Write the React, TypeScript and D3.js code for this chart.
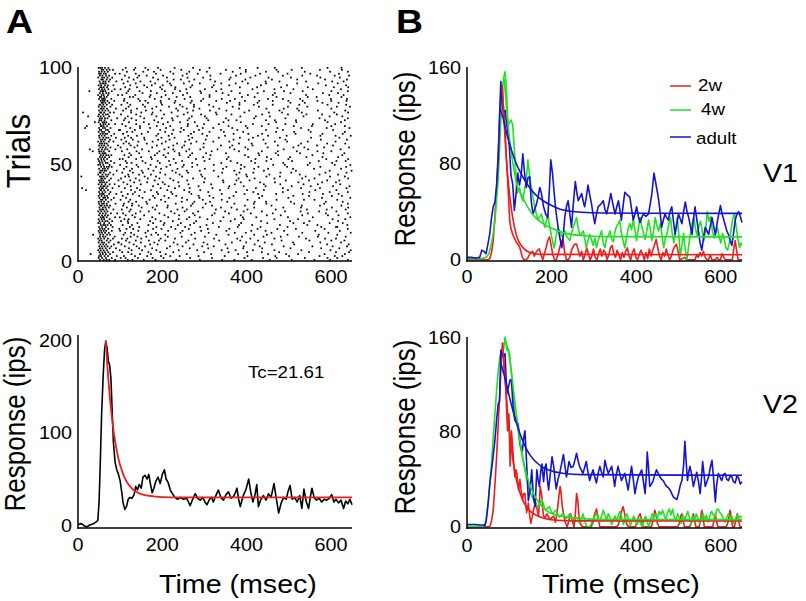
import React from "react";
import * as d3 from "d3";

// ---------------- DATA ----------------
const timeTicks = [0, 200, 400, 600];
const trialTicks = [0, 50, 100];
const psthTicksA = [0, 100, 200];
const respTicksB = [0, 80, 160];
const tcLabel = "Tc=21.61";
const legendLabels = ["2w", "4w", "adult"];
const areaLabels = ["V1", "V2"];

// raster: spike times (ms) per trial, trial 1 (bottom) .. 100 (top)
const spikeTimes: number[][] = [
  [61,52,74,68,88,412,156,598,233,371,507,129,640,289,455,184,342,561,118],
  [57,49,66,80,203,471,615,318,142,538,395,266,177,592,439,113,101],
  [55,71,63,50,92,348,501,219,627,164,286,573,402,135,468,241,609,197,109],
  [30,59,53,76,66,522,147,380,258,633,451,208,316,585,173,494,127],
  [64,51,58,83,72,167,299,436,612,226,357,548,119,477,195,401,643,105],
  [54,69,48,61,283,530,152,415,599,341,239,186,466,647,374,127,99],
  [58,75,52,66,90,437,211,577,309,145,620,265,392,504,176,355,121],
  [50,63,56,79,70,159,322,488,604,248,393,139,556,218,431,638,295,111],
  [67,53,60,85,591,274,132,419,189,350,513,236,642,460,171,307,103],
  [49,57,73,62,95,227,365,510,149,624,298,443,181,575,399,122,256,97],
  [56,68,51,77,335,483,207,601,168,427,262,549,385,137,632,192,114],
  [62,54,48,71,83,150,278,409,541,196,323,612,466,230,117,378,586,104],
  [59,52,65,87,481,246,162,389,635,301,524,213,440,141,569,125],
  [36,53,69,60,76,190,328,571,448,269,133,615,357,207,497,174,418,108],
  [51,64,57,73,594,372,243,126,459,310,185,532,647,398,160,277,112],
  [55,49,61,80,67,214,352,489,166,621,292,411,143,563,248,445,100],
  [63,58,72,52,98,131,473,308,585,198,426,263,640,359,178,517,231,115],
  [57,50,66,82,379,254,615,145,497,221,334,577,186,433,290,612,123],
  [60,54,70,64,78,167,544,305,413,128,639,237,382,479,203,266,568,106],
  [53,48,62,74,449,178,597,320,244,536,141,387,628,275,205,511,119],
  [58,65,51,81,70,225,362,118,503,280,617,171,434,338,549,196,102],
  [56,62,49,75,604,258,393,148,522,307,184,466,239,634,372,120,110],
  [61,54,68,59,88,176,423,289,557,135,345,498,214,646,391,264,99],
  [50,57,71,64,318,157,481,240,593,386,205,532,129,448,277,618,113],
  [66,52,59,78,93,137,273,410,588,193,324,462,229,545,640,358,107],
  [55,48,63,70,491,168,349,221,613,285,436,148,572,393,253,528,122],
  [52,60,67,57,84,258,125,402,543,183,327,469,635,236,377,590,104],
  [59,51,73,65,212,364,487,151,602,296,418,177,529,248,641,339,116],
  [53,63,56,76,69,396,144,531,268,187,459,625,318,213,574,107,128],
  [57,50,68,61,89,164,303,447,584,232,371,129,513,640,272,417,109],
  [62,55,72,49,276,419,162,588,354,207,505,138,628,313,446,246,120],
  [54,66,58,79,536,197,341,471,124,615,259,402,170,561,296,101],
  [60,51,64,71,85,153,288,430,579,215,359,499,182,646,321,247,114],
  [56,49,69,63,369,511,233,145,602,286,437,178,548,312,626,205,106],
  [52,61,57,74,91,224,395,130,470,618,341,269,190,533,427,581,118],
  [58,65,50,77,486,158,309,549,221,375,640,264,416,135,187,597,103],
  [19,55,62,53,71,173,337,498,252,613,401,147,563,290,441,212,126],
  [10,51,59,67,57,82,265,422,140,574,319,196,486,637,357,230,529,111],
  [63,54,70,60,125,359,507,240,605,286,445,178,393,552,215,644,97],
  [49,56,65,75,87,441,206,569,316,149,480,262,622,372,190,535,117],
  [57,52,68,62,299,164,523,386,238,612,133,467,345,579,201,432,108],
  [60,50,74,55,96,182,344,493,259,620,407,146,548,226,376,591,124],
  [55,64,58,78,561,219,381,137,466,301,641,193,419,273,532,166,102],
  [8,52,61,69,56,333,479,158,598,247,401,185,540,295,447,121,633,112],
  [48,58,66,72,84,207,376,526,145,454,292,617,241,399,173,573,119],
  [54,61,51,76,416,261,130,587,342,195,506,232,637,383,154,480,105],
  [57,67,53,63,92,151,289,441,597,224,371,517,179,649,322,258,123],
  [50,59,71,64,510,236,386,167,624,301,451,197,560,344,128,418,109],
  [62,55,68,80,73,271,428,143,575,210,352,496,636,248,395,185,115],
  [53,48,60,75,609,322,172,463,251,545,139,387,219,491,283,646,100],
  [58,66,52,70,86,194,340,487,116,603,271,420,232,550,378,160,127],
  [56,63,50,78,447,216,571,300,153,635,362,189,508,247,411,613,113],
  [48,61,55,69,99,138,280,421,589,227,353,499,175,641,312,458,106],
  [52,64,58,74,357,503,173,262,617,404,208,542,297,448,150,580,120],
  [60,54,67,79,72,241,396,126,556,314,182,475,627,266,430,203,110],
  [51,58,65,62,582,271,145,428,214,351,527,188,632,304,469,240,122],
  [35,55,61,50,74,168,317,474,229,601,382,139,519,257,436,193,568,104],
  [28,49,57,70,64,89,403,264,152,546,331,205,488,623,290,371,226,117],
  [53,66,59,77,215,360,511,134,584,298,450,176,643,247,397,537,101],
  [50,62,56,71,95,523,187,339,252,605,414,141,474,226,366,567,125],
  [57,52,68,63,298,445,163,591,235,382,529,121,634,268,412,199,108],
  [61,48,55,73,84,177,321,467,254,611,359,208,545,143,496,281,114],
  [54,64,58,76,440,217,369,130,576,303,492,190,638,264,405,158,103],
  [51,60,67,72,90,271,415,157,553,229,384,620,198,479,334,126,111],
  [56,63,50,79,349,186,495,262,611,140,427,306,575,215,451,647,119],
  [59,53,69,65,86,151,295,437,580,223,369,516,190,628,268,404,107],
  [49,57,62,74,513,243,392,166,633,312,470,207,552,346,129,275,116],
  [55,66,52,71,97,226,378,135,547,287,446,195,605,339,486,251,100],
  [17,50,59,64,77,402,171,321,590,245,473,147,529,366,209,644,296,124],
  [21,56,61,69,54,147,283,436,601,219,357,512,187,633,260,398,555,113],
  [53,60,73,65,88,334,492,168,261,610,415,202,557,299,138,452,105],
  [40,49,58,67,62,190,345,518,242,624,386,156,470,277,592,213,121],
  [55,63,51,79,467,225,376,138,586,309,446,181,633,260,517,357,109],
  [57,52,70,64,93,264,418,157,573,223,351,492,199,640,305,127,112],
  [24,54,61,48,74,148,301,455,597,236,385,535,186,627,270,422,118],
  [59,50,66,71,542,204,364,138,614,292,437,175,498,251,579,329,102],
  [12,55,62,53,76,85,177,327,484,260,608,395,150,531,222,453,641,126],
  [50,58,65,72,406,237,126,569,313,478,196,634,352,273,524,161,107],
  [56,61,69,54,90,233,382,140,520,288,447,176,601,335,488,258,114],
  [49,57,63,77,614,275,429,159,544,216,367,498,186,645,321,248,120],
  [53,60,51,68,81,154,311,462,592,242,383,124,525,275,417,199,636,103],
  [56,65,59,74,383,538,197,267,618,426,166,504,229,353,580,117],
  [54,59,63,70,86,109,147,160,196,231,270,292,328,361,396,430,462,499,533,568,601,637],
  [50,57,64,60,79,216,372,527,143,600,297,451,182,638,341,253,486,110],
  [55,62,68,52,471,234,389,131,566,312,198,625,266,419,545,170,123],
  [48,56,61,71,95,312,462,172,596,249,403,136,541,357,208,630,105],
  [52,59,67,73,187,343,504,259,617,384,153,467,225,581,292,426,115],
  [27,54,60,65,58,80,533,206,364,146,601,290,441,173,489,328,640,242,119],
  [50,57,63,72,87,257,414,122,557,301,466,199,624,340,230,511,101],
  [56,61,69,53,164,318,482,231,607,384,140,545,267,425,195,641,112],
  [49,55,64,71,84,434,201,359,157,588,271,496,221,636,322,175,124],
  [53,58,66,61,289,446,137,570,218,374,520,183,616,251,403,340,108],
  [51,60,65,73,91,172,325,478,264,603,390,148,541,212,445,630,118],
  [55,59,68,76,520,244,397,132,586,314,460,190,638,276,359,227,104],
  [48,57,62,70,81,141,297,452,211,575,362,505,178,621,260,409,121],
  [52,58,67,74,375,532,163,248,609,421,202,486,314,145,567,643,111],
  [54,61,66,50,88,226,386,137,551,284,432,185,619,338,497,258,99],
  [50,56,63,71,475,219,367,155,598,306,446,180,538,264,640,398,116],
  [56,60,68,75,83,196,351,507,245,626,398,133,471,289,574,166,106],
  [49,57,64,72,53,312,467,160,592,229,384,136,531,273,426,625,190,113],
];

// PSTH of the raster (ms, ips)
const psthA: [number, number][] = [
  [0,0],[5,1.5],[10,1],[15,-1],[21,-2],[28,0],[35,1],[42,3],[47,5],[50,25],[53,70],[56,120],[60,165],[63,190],[66,200],[69,192],[72,178],[75,174],[78,160],[81,125],[84,90],[88,68],[92,60],[96,55],[100,48],[104,35],[107,24],[111,17],[115,20],[119,28],[123,30],[128,29],[133,33],[137,42],[141,38],[145,44],[150,40],[154,52],[159,54],[164,50],[168,55],[172,44],[176,35],[180,40],[185,48],[190,52],[195,45],[200,55],[205,60],[209,50],[214,46],[219,38],[224,34],[230,30],[236,28],[243,30],[250,28],[258,29],[262,25],[266,21],[272,28],[278,34],[284,29],[290,27],[296,30],[301,25],[306,22],[312,28],[317,30],[321,25],[327,32],[333,38],[339,30],[345,27],[351,33],[357,36],[363,29],[369,31],[374,36],[377,40],[381,28],[385,20],[392,32],[398,38],[405,50],[410,35],[415,25],[420,33],[424,44],[428,20],[434,28],[440,32],[446,27],[452,34],[458,30],[465,45],[470,30],[476,13],[482,24],[488,30],[494,28],[498,36],[503,43],[508,28],[514,30],[520,25],[526,32],[531,18],[536,39],[541,26],[547,18],[551,30],[555,40],[560,30],[566,27],[572,29],[578,25],[584,28],[590,27],[596,29],[602,33],[607,25],[612,28],[618,24],[624,27],[630,18],[635,26],[640,23],[645,28],[650,22],
];
const fitA: [number, number][] = [
  [66,200],[70,171],[75,142],[80,119],[85,100],[90,86],[95,74],[100,65],[105,58],[110,52],[115,47.5],[120,44],[130,38.8],[140,35.5],[150,33.5],[165,31.9],[180,31.1],[200,30.4],[240,30.05],[650,30],
];

// V1 responses (ms, ips)
const v1_2w: [number, number][] = [
  [0,0],[40,0],[50,0],[54,1],[58,6],[62,16],[66,36],[70,60],[74,92],[78,124],[81,140],[83,145],[86,128],[90,110],[93,85],[97,60],[101,32],[104,26],[108,21],[112,18],[116,15],[120,13],[124,11],[128,6],[131,2],[135,0],[139,0],[143,1],[147,4],[151,6],[155,7],[159,3],[163,6],[167,8],[171,9],[175,4],[179,0],[183,5],[187,10],[191,16],[195,19],[199,12],[203,4],[207,0],[211,0],[215,4],[219,10],[223,15],[227,17],[231,6],[235,0],[239,0],[243,2],[247,8],[251,11],[255,13],[259,13],[263,8],[267,3],[271,7],[275,0],[279,4],[283,10],[287,5],[291,0],[295,3],[299,9],[303,2],[307,0],[311,5],[315,9],[319,3],[323,8],[327,6],[331,0],[335,4],[339,10],[343,12],[347,5],[351,2],[355,8],[359,4],[363,0],[367,6],[371,2],[375,7],[379,10],[383,3],[387,0],[391,6],[395,9],[399,2],[403,0],[407,4],[411,8],[415,5],[419,0],[423,6],[427,1],[431,9],[435,3],[439,8],[443,12],[447,17],[451,10],[455,3],[459,0],[463,6],[467,3],[471,9],[475,4],[479,0],[483,3],[487,8],[491,11],[495,13],[499,7],[503,0],[515,2],[519,0],[539,0],[543,4],[547,2],[551,6],[555,3],[559,7],[563,2],[567,0],[571,0],[575,4],[579,0],[587,0],[591,2],[595,0],[599,0],[603,5],[607,2],[611,0],[627,0],[631,10],[634,16],[637,8],[641,0],[650,0],
];
const v1_4w: [number, number][] = [
  [0,1],[20,1],[35,1],[45,2],[52,5],[58,14],[62,22],[66,32],[70,50],[74,68],[78,100],[82,132],[86,150],[90,156],[93,143],[97,111],[100,114],[104,116],[108,112],[112,91],[116,68],[118,55],[121,58],[124,60],[128,53],[132,49],[136,58],[140,66],[144,83],[148,70],[152,60],[156,52],[160,44],[164,38],[168,33],[172,36],[176,38],[180,32],[184,27],[188,33],[191,38],[195,28],[199,21],[203,14],[206,10],[209,16],[211,21],[215,26],[219,24],[223,20],[227,19],[231,24],[235,20],[239,18],[243,16],[247,22],[251,27],[255,31],[259,35],[263,26],[267,20],[271,22],[275,24],[279,16],[282,10],[286,16],[290,21],[294,17],[298,12],[302,18],[306,10],[310,16],[314,20],[318,24],[322,14],[326,10],[330,18],[334,20],[338,24],[342,17],[346,15],[350,24],[354,28],[358,30],[361,33],[365,22],[369,16],[373,10],[377,18],[381,26],[385,30],[389,25],[393,34],[397,24],[401,16],[405,26],[409,35],[413,28],[417,22],[421,17],[425,24],[429,33],[433,26],[437,16],[441,24],[445,35],[449,28],[453,24],[457,30],[461,20],[465,10],[469,18],[473,22],[477,30],[481,35],[485,22],[489,14],[493,25],[497,35],[500,24],[504,3],[508,12],[512,22],[516,8],[520,0],[524,12],[528,22],[532,30],[536,35],[540,26],[544,20],[548,28],[552,32],[556,24],[560,16],[564,24],[568,40],[572,32],[576,36],[580,24],[584,18],[588,22],[592,27],[596,19],[600,14],[604,22],[608,17],[612,10],[616,8],[620,14],[624,24],[628,34],[632,38],[636,28],[640,18],[644,10],[647,14],[650,12],
];
const v1_adult: [number, number][] = [
  [0,2],[10,2],[20,1.5],[30,2],[35,8],[40,7],[45,5],[50,14],[54,22],[58,35],[62,44],[66,48],[70,62],[74,85],[77,120],[80,148],[83,130],[86,122],[90,124],[94,112],[97,105],[100,94],[104,70],[108,63],[112,41],[116,55],[120,72],[124,62],[128,70],[132,88],[136,72],[140,60],[144,68],[148,69],[152,48],[156,38],[160,42],[164,46],[168,52],[172,60],[176,55],[181,44],[186,38],[191,35],[195,60],[198,83],[202,72],[205,60],[208,48],[211,38],[215,28],[218,21],[224,10],[228,22],[231,35],[235,44],[239,49],[243,38],[247,27],[251,45],[256,65],[260,55],[263,49],[267,52],[271,55],[275,48],[278,44],[282,52],[286,62],[290,54],[294,47],[298,38],[302,30],[306,38],[310,44],[316,46],[322,49],[326,42],[330,38],[335,46],[340,55],[345,46],[350,38],[354,44],[358,49],[362,40],[365,33],[369,45],[373,56],[378,54],[385,52],[389,42],[393,33],[397,38],[401,44],[405,36],[409,31],[413,35],[417,38],[423,36],[429,38],[433,46],[437,55],[442,72],[448,60],[452,52],[455,44],[460,27],[464,33],[468,38],[472,35],[476,33],[480,40],[484,44],[488,32],[492,21],[496,30],[500,38],[504,34],[508,30],[512,40],[516,48],[520,40],[524,35],[528,28],[532,21],[535,33],[539,44],[543,34],[547,24],[551,14],[555,8],[559,18],[563,27],[567,24],[571,21],[575,28],[579,35],[583,28],[587,21],[591,30],[595,38],[599,45],[603,38],[607,33],[611,28],[614,24],[618,21],[622,16],[626,12],[630,22],[634,33],[638,38],[642,40],[646,36],[650,31],
];
const v1Fit2w: [number, number][] = [
  [83,145],[87,120],[90,100],[95,75],[100,56],[105,42],[110,31],[115,23],[120,17],[130,11],[140,7.5],[155,5.5],[180,4.5],[650,4.2],
];
const v1Fit4w: [number, number][] = [
  [88,150],[92,132],[96,116],[100,102],[105,88],[110,77],[115,67],[120,60],[130,53],[140,46],[150,40],[165,34],[180,30],[195,27],[215,24],[240,21.5],[280,20],[340,19.2],[650,19],
];
const v1FitAdult: [number, number][] = [
  [78,125],[85,118],[90,110],[100,97],[110,86],[120,77],[130,70],[140,64],[150,59],[165,53],[180,49],[200,45],[220,42],[240,40.5],[270,39.5],[320,38.8],[650,38.5],
];

// V2 responses (ms, ips)
const v2_2w: [number, number][] = [
  [0,0],[45,0],[50,0],[54,0.5],[58,5],[62,14],[66,35],[70,59],[74,88],[78,115],[81,140],[84,155],[87,137],[90,125],[92,115],[94,95],[96,81],[99,95],[102,51],[105,81],[107,72],[109,61],[111,50],[113,42],[116,48],[118,45],[120,36],[122,31],[125,40],[128,30],[131,23],[134,28],[137,28],[139,18],[141,12],[143,16],[145,20],[148,10],[151,3],[154,8],[157,14],[160,18],[163,20],[166,14],[169,9],[171,20],[173,34],[175,30],[177,25],[179,15],[181,9],[185,8],[189,11],[193,8],[197,6],[201,8],[205,9],[209,4],[213,12],[217,25],[220,34],[222,30],[225,18],[229,9],[233,3],[237,0],[241,6],[245,11],[249,5],[253,0],[256,10],[259,28],[262,22],[265,8],[269,2],[273,0],[293,0],[297,3],[301,10],[306,15],[310,8],[314,0],[354,0],[358,2],[362,8],[366,14],[369,17],[372,12],[375,6],[378,2],[382,0],[398,0],[402,4],[406,9],[409,11],[412,7],[416,0],[436,0],[440,6],[444,14],[447,10],[450,3],[454,0],[498,0],[502,3],[505,9],[508,11],[511,5],[514,0],[526,0],[530,3],[533,9],[535,11],[538,5],[541,0],[549,0],[552,6],[555,14],[558,8],[561,0],[581,0],[584,6],[587,11],[590,4],[593,0],[613,0],[617,4],[620,11],[622,14],[625,6],[628,0],[632,0],[636,6],[639,11],[642,6],[645,0],[650,0],
];
const v2_4w: [number, number][] = [
  [0,0.5],[20,0.5],[38,0.5],[42,1],[46,8],[50,20],[54,36],[58,54],[62,75],[66,95],[70,115],[74,132],[78,144],[82,147],[85,148],[87,151],[90,160],[94,149],[98,150],[101,145],[103,137],[106,127],[108,118],[111,105],[113,95],[116,90],[119,87],[122,78],[125,70],[128,64],[131,59],[134,53],[137,48],[141,40],[145,34],[149,30],[153,26],[157,23],[161,20],[165,18],[169,17],[173,20],[177,23],[180,20],[184,15],[187,14],[191,16],[195,17],[199,13],[203,11],[207,13],[211,14],[215,10],[219,8],[223,10],[227,11],[231,9],[235,7],[239,9],[243,11],[247,8],[251,6],[255,7],[259,8],[263,5],[266,3],[270,7],[274,11],[278,6],[282,1],[286,0],[290,0],[294,3],[298,6],[302,9],[306,11],[310,7],[314,4],[318,9],[322,14],[326,10],[330,6],[334,11],[338,8],[342,2],[346,6],[350,9],[354,5],[358,10],[362,13],[366,7],[370,2],[374,8],[378,11],[382,6],[386,1],[390,5],[394,9],[398,5],[402,2],[406,7],[410,3],[414,0],[418,5],[422,9],[426,4],[430,0],[434,6],[438,11],[442,8],[446,11],[450,7],[454,13],[458,10],[462,14],[466,10],[470,6],[474,12],[478,15],[482,10],[486,15],[490,8],[494,6],[498,11],[502,7],[506,3],[510,10],[514,6],[518,9],[522,13],[526,7],[530,2],[534,9],[538,6],[542,11],[546,7],[550,3],[554,8],[558,11],[562,6],[566,10],[570,4],[574,9],[578,13],[582,10],[586,8],[590,14],[594,15],[598,12],[602,10],[606,7],[610,4],[614,8],[618,11],[622,7],[626,9],[630,3],[634,6],[638,10],[642,7],[646,9],[650,8],
];
const v2_adult: [number, number][] = [
  [0,2],[10,2],[20,2],[30,1.5],[38,1.5],[42,1],[45,4],[50,20],[54,37],[58,48],[62,60],[66,73],[70,90],[74,104],[77,106],[80,149],[83,145],[86,143],[90,146],[94,112],[98,118],[102,124],[105,124],[109,101],[113,90],[117,88],[121,87],[124,75],[127,67],[131,64],[134,75],[137,81],[141,53],[145,22],[149,31],[153,48],[157,25],[161,17],[165,48],[168,40],[171,34],[174,46],[177,53],[181,38],[184,50],[187,53],[190,40],[193,31],[197,45],[201,59],[205,51],[208,40],[211,32],[215,40],[219,45],[223,52],[228,61],[232,50],[235,42],[238,48],[241,55],[246,50],[251,51],[255,56],[259,62],[263,55],[266,51],[270,48],[274,45],[278,50],[282,55],[286,46],[290,39],[294,44],[298,48],[302,42],[306,37],[310,45],[314,51],[318,46],[322,42],[326,56],[330,50],[334,45],[338,48],[342,51],[346,42],[349,34],[353,44],[357,51],[361,45],[365,39],[369,42],[373,45],[377,38],[381,31],[385,42],[389,51],[393,40],[397,28],[401,36],[405,42],[409,45],[413,48],[417,38],[421,28],[424,45],[426,63],[429,50],[432,34],[436,36],[440,39],[444,44],[448,48],[452,45],[456,42],[460,40],[464,39],[468,36],[472,34],[476,33],[480,31],[484,28],[488,25],[492,24],[496,23],[500,28],[504,35],[508,39],[512,52],[515,72],[518,55],[521,39],[524,46],[527,51],[531,44],[535,34],[539,40],[543,46],[547,38],[551,28],[554,40],[557,55],[560,45],[563,34],[567,38],[571,42],[575,50],[579,56],[583,40],[587,21],[590,35],[594,45],[598,42],[602,39],[606,44],[610,45],[614,40],[618,39],[622,43],[626,42],[630,38],[634,37],[638,43],[642,41],[646,36],[650,38],
];
const v2Fit2w: [number, number][] = [
  [84,155],[88,135],[92,115],[96,97],[100,82],[105,66],[110,53],[115,43],[120,35],[130,24],[140,17],[150,13],[165,9.5],[180,7.5],[200,6],[230,5.2],[280,5],[650,5],
];
const v2Fit4w: [number, number][] = [
  [90,158],[95,152],[100,143],[105,130],[110,115],[115,100],[120,86],[125,73],[130,62],[140,45],[150,34],[160,26],[175,18],[190,13],[210,10],[240,8],[280,6.7],[340,6.2],[650,6],
];
const v2FitAdult: [number, number][] = [
  [80,138],[90,125],[100,110],[110,96],[120,84],[130,74],[140,66],[150,60],[165,54],[180,50],[200,47],[230,45],[270,44],[650,43.5],
];

// ---------------- STYLE ----------------
const FONT = "'Liberation Sans', Arial, Helvetica, sans-serif";
const SX = 1.1;
const RED = "#ee1c1c";
const GREEN = "#22e022";
const BLUE = "#1414d0";
const seriesColors = [RED, GREEN, BLUE];

// scales
const xA = d3.scaleLinear().domain([0, 650]).range([78, 352]);
const yTrial = d3.scaleLinear().domain([0, 100]).range([261, 67]);
const yA = d3.scaleLinear().domain([-3.26, 206.5]).range([528, 335]);
const xB = d3.scaleLinear().domain([0, 650]).range([467, 742]);
const yB1 = d3.scaleLinear().domain([-1, 160]).range([261, 67]);
const yB2 = d3.scaleLinear().domain([-1, 160]).range([528, 337]);

function Txt(props: {
  x: number; y: number; size: number; anchor?: string; rotate?: number;
  weight?: string; children: React.ReactNode;
}) {
  const { x, y, size, anchor = "start", rotate = 0, weight = "normal", children } = props;
  return (
    <text
      transform={`translate(${x},${y}) scale(${SX},1) rotate(${rotate})`}
      fontFamily={FONT}
      fontSize={size}
      fontWeight={weight}
      textAnchor={anchor}
      fill="#000"
    >
      {children}
    </text>
  );
}

function Axes(props: {
  x: d3.ScaleLinear<number, number>; y: d3.ScaleLinear<number, number>;
  yTicks: number[]; xTicks: number[]; xLabelDy: number;
}) {
  const { x, y, yTicks, xTicks, xLabelDy } = props;
  const [x0, x1] = x.range();
  const [yb, yt] = y.range();
  return (
    <g>
      <line x1={x0} x2={x0} y1={yt} y2={yb + 0.75} stroke="#000" strokeWidth={1.5} />
      <line x1={x0 - 0.75} x2={x1} y1={yb} y2={yb} stroke="#000" strokeWidth={1.5} />
      {yTicks.map((t) => (
        <Txt key={"y" + t} x={x0 - 6} y={y(t) + 6.5} size={18} anchor="end">{t}</Txt>
      ))}
      {xTicks.map((t) => (
        <Txt key={"x" + t} x={x(t)} y={yb + xLabelDy} size={18} anchor="middle">{t}</Txt>
      ))}
    </g>
  );
}

function pathOf(data: [number, number][], x: d3.ScaleLinear<number, number>, y: d3.ScaleLinear<number, number>, smooth = false) {
  const gen = d3.line<[number, number]>().x((d) => x(d[0])).y((d) => y(d[1]));
  if (smooth) gen.curve(d3.curveMonotoneX);
  return gen(data) || "";
}

export default function App() {
  const dots: { t: number; tr: number }[] = [];
  spikeTimes.forEach((row, i) => row.forEach((t) => dots.push({ t, tr: i + 0.55 })));

  const v1Data = [v1_2w, v1_4w, v1_adult];
  const v1Fits = [v1Fit2w, v1Fit4w, v1FitAdult];
  const v2Data = [v2_2w, v2_4w, v2_adult];
  const v2Fits = [v2Fit2w, v2Fit4w, v2FitAdult];

  const legendY = [86, 110, 137];
  const legendTextX = [698, 701, 696];
  const legendTextY = [91, 115, 144];

  return (
    <svg
      width={806}
      height={601}
      style={{ position: "absolute", left: 0, top: 0, background: "#fff" }}
    >
      <rect x={0} y={0} width={806} height={601} fill="#fff" />

      {/* panel letters */}
      <Txt x={6} y={33} size={34} weight="bold">A</Txt>
      <Txt x={396} y={33} size={34} weight="bold">B</Txt>

      {/* ---- A top: raster ---- */}
      <g>
        {dots.map((d, i) => (
          <rect
            key={i}
            x={xA(d.t) - 0.85}
            y={yTrial(d.tr) - 0.85}
            width={1.7}
            height={1.7}
            fill="#000"
          />
        ))}
      </g>
      <Axes x={xA} y={yTrial} yTicks={trialTicks} xTicks={timeTicks} xLabelDy={22} />
      <Txt x={30} y={151} size={31} anchor="middle" rotate={-90}>Trials</Txt>

      {/* ---- A bottom: PSTH ---- */}
      <path d={pathOf(psthA, xA, yA)} fill="none" stroke="#000" strokeWidth={1.6} strokeLinejoin="round" />
      <path d={pathOf(fitA, xA, yA, true)} fill="none" stroke={RED} strokeWidth={1.8} />
      <Axes x={xA} y={yA} yTicks={psthTicksA} xTicks={timeTicks} xLabelDy={23} />
      <Txt x={248} y={378} size={17}>{tcLabel}</Txt>
      <Txt x={25} y={424} size={26} anchor="middle" rotate={-90}>Response (ips)</Txt>
      <Txt x={238} y={593} size={26} anchor="middle">Time (msec)</Txt>

      {/* ---- B top: V1 ---- */}
      {v1Data.map((d, i) => (
        <path key={"v1d" + i} d={pathOf(d, xB, yB1)} fill="none" stroke={seriesColors[i]} strokeWidth={1.6} strokeLinejoin="round" />
      ))}
      {v1Fits.map((d, i) => (
        <path key={"v1f" + i} d={pathOf(d, xB, yB1, true)} fill="none" stroke={seriesColors[i]} strokeWidth={1.6} />
      ))}
      <Axes x={xB} y={yB1} yTicks={respTicksB} xTicks={timeTicks} xLabelDy={22} />
      <Txt x={415} y={159} size={26} anchor="middle" rotate={-90}>Response (ips)</Txt>
      {legendLabels.map((l, i) => (
        <g key={l}>
          <line x1={670} x2={691} y1={legendY[i]} y2={legendY[i]} stroke={seriesColors[i]} strokeWidth={1.5} />
          <Txt x={legendTextX[i]} y={legendTextY[i]} size={17}>{l}</Txt>
        </g>
      ))}
      <Txt x={763} y={182} size={26}>{areaLabels[0]}</Txt>

      {/* ---- B bottom: V2 ---- */}
      {v2Data.map((d, i) => (
        <path key={"v2d" + i} d={pathOf(d, xB, yB2)} fill="none" stroke={seriesColors[i]} strokeWidth={1.6} strokeLinejoin="round" />
      ))}
      {v2Fits.map((d, i) => (
        <path key={"v2f" + i} d={pathOf(d, xB, yB2, true)} fill="none" stroke={seriesColors[i]} strokeWidth={1.6} />
      ))}
      <Axes x={xB} y={yB2} yTicks={respTicksB} xTicks={timeTicks} xLabelDy={24} />
      <Txt x={415} y={427} size={26} anchor="middle" rotate={-90}>Response (ips)</Txt>
      <Txt x={621} y={593} size={26} anchor="middle">Time (msec)</Txt>
      <Txt x={763} y={413} size={26}>{areaLabels[1]}</Txt>
    </svg>
  );
}
